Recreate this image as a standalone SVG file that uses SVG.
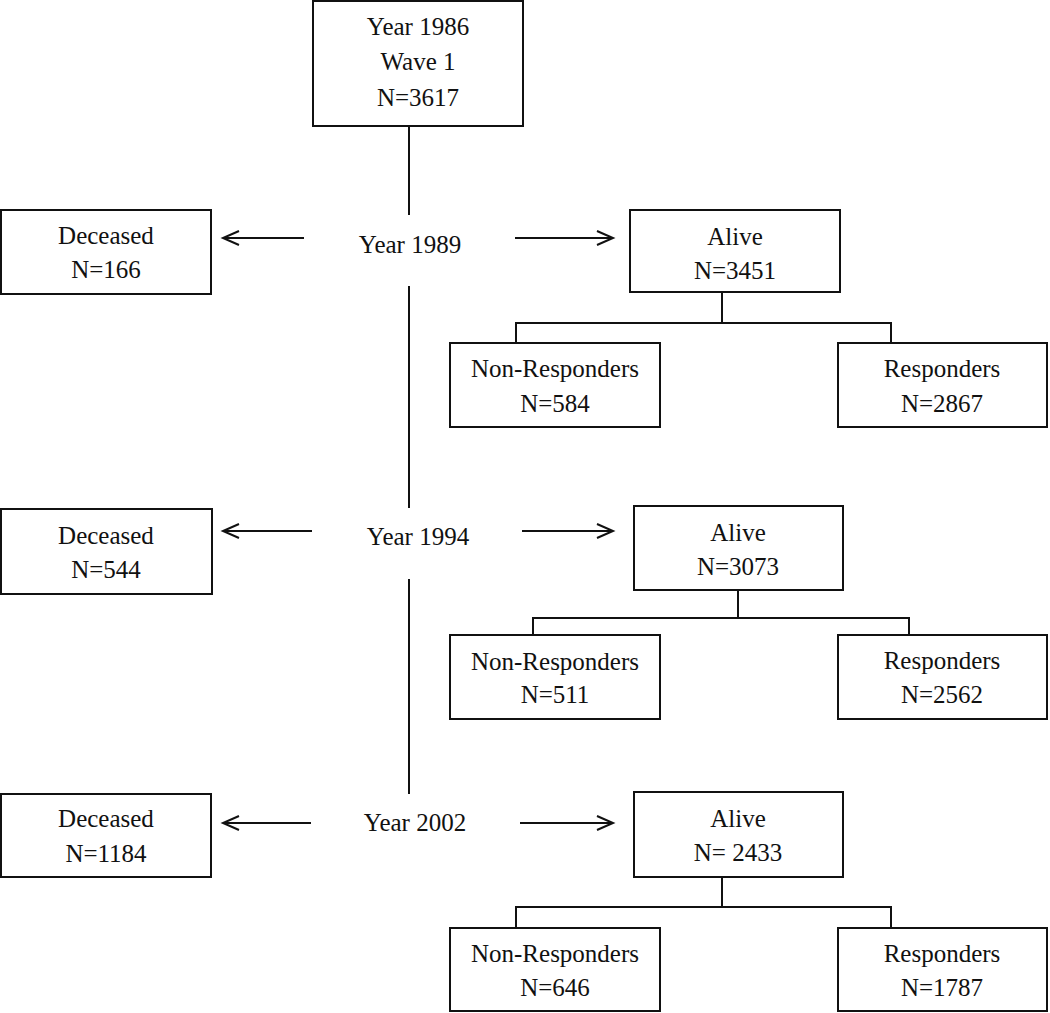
<svg xmlns="http://www.w3.org/2000/svg" width="1050" height="1013" viewBox="0 0 1050 1013">
<style>
  .box { fill: #fff; stroke: #111; stroke-width: 2; }
  .ln { fill: none; stroke: #111; stroke-width: 2; }
  .arr { fill: none; stroke: #111; stroke-width: 2; marker-end: url(#chev); }
  text { font-family: "Liberation Serif", "Times New Roman", serif; font-size: 25px; fill: #111; text-anchor: middle; }
</style>
<defs>
  <marker id="chev" markerUnits="userSpaceOnUse" markerWidth="20" markerHeight="18" refX="17" refY="8" orient="auto">
    <path d="M1,1 L17,8 L1,15" fill="none" stroke="#111" stroke-width="2"/>
  </marker>
</defs>
<rect width="1050" height="1013" fill="#fff"/>

<g id="connectors">
  <line class="ln" x1="409" y1="126" x2="409" y2="215"/>
  <line class="ln" x1="409" y1="286" x2="409" y2="508"/>
  <line class="ln" x1="409" y1="579" x2="409" y2="794"/>

  <line class="arr" x1="304" y1="238" x2="223" y2="238"/>
  <line class="arr" x1="515" y1="238" x2="613" y2="238"/>
  <line class="arr" x1="312" y1="531" x2="223" y2="531"/>
  <line class="arr" x1="522" y1="531" x2="613" y2="531"/>
  <line class="arr" x1="311" y1="823" x2="223" y2="823"/>
  <line class="arr" x1="520" y1="823" x2="613" y2="823"/>

  <path class="ln" d="M722,292 V323 M516,343 V323 H891 V343"/>
  <path class="ln" d="M738,590 V618 M533,635 V618 H909 V635"/>
  <path class="ln" d="M722,877 V907 M516,928 V907 H891 V928"/>
</g>

<g id="wave1">
  <rect class="box" x="313" y="1" width="210" height="125"/>
  <text x="418" y="35">Year 1986</text>
  <text x="418" y="70">Wave 1</text>
  <text x="418" y="106">N=3617</text>
</g>

<g id="year1989"><text x="410" y="253">Year 1989</text></g>
<g id="year1994"><text x="418" y="545">Year 1994</text></g>
<g id="year2002"><text x="415" y="831">Year 2002</text></g>

<g id="deceased1989">
  <rect class="box" x="1" y="210" width="210" height="84"/>
  <text x="106" y="244">Deceased</text>
  <text x="106" y="278">N=166</text>
</g>
<g id="alive1989">
  <rect class="box" x="630" y="210" width="210" height="82"/>
  <text x="735" y="245">Alive</text>
  <text x="735" y="279">N=3451</text>
</g>
<g id="nonresp1989">
  <rect class="box" x="450" y="343" width="210" height="84"/>
  <text x="555" y="377">Non-Responders</text>
  <text x="555" y="412">N=584</text>
</g>
<g id="resp1989">
  <rect class="box" x="838" y="343" width="209" height="84"/>
  <text x="942" y="377">Responders</text>
  <text x="942" y="412">N=2867</text>
</g>

<g id="deceased1994">
  <rect class="box" x="1" y="509" width="211" height="85"/>
  <text x="106" y="544">Deceased</text>
  <text x="106" y="578">N=544</text>
</g>
<g id="alive1994">
  <rect class="box" x="634" y="506" width="209" height="84"/>
  <text x="738" y="541">Alive</text>
  <text x="738" y="575">N=3073</text>
</g>
<g id="nonresp1994">
  <rect class="box" x="450" y="635" width="210" height="84"/>
  <text x="555" y="670">Non-Responders</text>
  <text x="555" y="703">N=511</text>
</g>
<g id="resp1994">
  <rect class="box" x="838" y="635" width="209" height="84"/>
  <text x="942" y="669">Responders</text>
  <text x="942" y="703">N=2562</text>
</g>

<g id="deceased2002">
  <rect class="box" x="1" y="794" width="210" height="83"/>
  <text x="106" y="827">Deceased</text>
  <text x="106" y="862">N=1184</text>
</g>
<g id="alive2002">
  <rect class="box" x="634" y="792" width="209" height="85"/>
  <text x="738" y="827">Alive</text>
  <text x="738" y="861">N= 2433</text>
</g>
<g id="nonresp2002">
  <rect class="box" x="450" y="928" width="210" height="83"/>
  <text x="555" y="962">Non-Responders</text>
  <text x="555" y="996">N=646</text>
</g>
<g id="resp2002">
  <rect class="box" x="838" y="928" width="209" height="83"/>
  <text x="942" y="962">Responders</text>
  <text x="942" y="996">N=1787</text>
</g>
</svg>
